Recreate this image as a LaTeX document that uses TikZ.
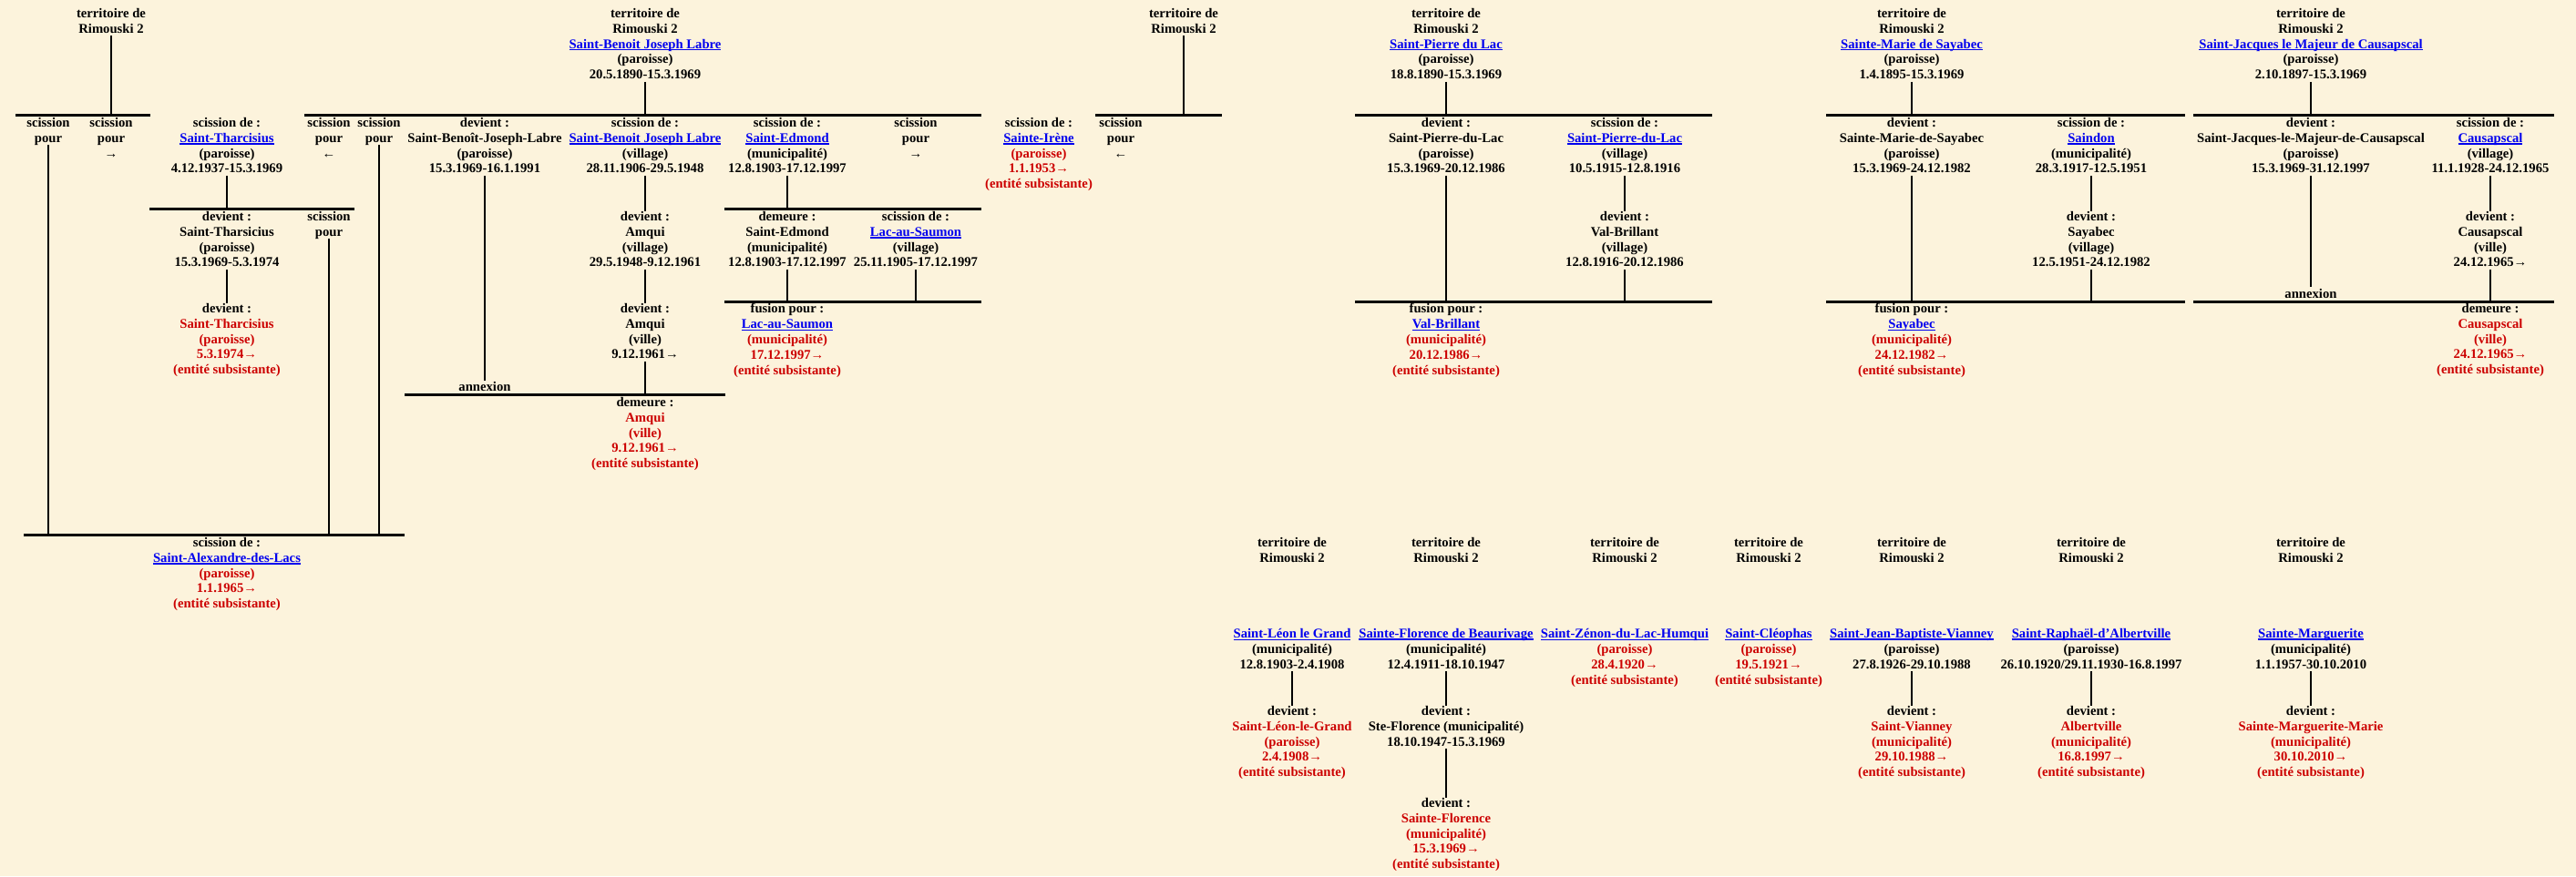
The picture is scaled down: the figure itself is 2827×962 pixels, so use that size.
\documentclass[tikz,border=0pt]{standalone}
\usepackage{fontspec}
\setmainfont{Liberation Serif}
\usepackage{xcolor}
\definecolor{bg}{RGB}{252,243,220}
\definecolor{lb}{RGB}{0,0,238}
\definecolor{rd}{RGB}{204,0,0}
\newcommand\kstrut{\rule[-3pt]{0pt}{14.9pt}}
\newcommand\lnk[1]{{\color{lb}\setbox0\hbox{#1}\rlap{\rule[-2.4pt]{\wd0}{1.2pt}}\box0}}
\newcommand\rtx[1]{\textcolor{rd}{#1}}
\begin{document}
\begin{tikzpicture}[x=1pt,y=-1pt,
  tb/.style={anchor=north,inner sep=0pt,outer sep=0pt,align=center,
    font=\fontsize{14.67pt}{16.9pt}\selectfont\bfseries,
    execute at begin node=\kstrut,execute at end node=\kstrut},
  bar/.style={line width=3pt},
  vl/.style={line width=1.3pt}]
\fill[bg] (0,0) rectangle (2827,962);
\useasboundingbox (0,0) rectangle (2827,962);

% ---------- bar end points ----------
\coordinate (p1a) at (17,126);   \coordinate (p1b) at (165,126);
\coordinate (p2a) at (164,229);  \coordinate (p2b) at (389,229);
\coordinate (p3a) at (334,126);  \coordinate (p3b) at (1077,126);
\coordinate (p4a) at (444,433);  \coordinate (p4b) at (796,433);
\coordinate (p5a) at (795,229);  \coordinate (p5b) at (1077,229);
\coordinate (p6a) at (795,331);  \coordinate (p6b) at (1077,331);
\coordinate (p7a) at (1202,126); \coordinate (p7b) at (1341,126);
\coordinate (p8a) at (26,587);   \coordinate (p8b) at (444,587);
\coordinate (q1a) at (1487,126); \coordinate (q1b) at (1879,126);
\coordinate (q2a) at (1487,331); \coordinate (q2b) at (1879,331);
\coordinate (r1a) at (2004,126); \coordinate (r1b) at (2398,126);
\coordinate (r2a) at (2004,331); \coordinate (r2b) at (2398,331);
\coordinate (s1a) at (2407,126); \coordinate (s1b) at (2803,126);
\coordinate (s2a) at (2407,331); \coordinate (s2b) at (2803,331);
\foreach \u/\v in {p1a/p1b,p2a/p2b,p3a/p3b,p4a/p4b,p5a/p5b,p6a/p6b,p7a/p7b,p8a/p8b,
  q1a/q1b,q2a/q2b,r1a/r1b,r2a/r2b,s1a/s1b,s2a/s2b}
  \draw[bar] (\u) -- (\v);

% ---------- Saint-Tharcisius / Saint-Alexandre ----------
\node[tb] (a1) at (122,9.1) {territoire de\\Rimouski 2};
\node[tb] (a2) at (53,129.1) {scission\\pour};
\node[tb] (a3) at (122,129.1) {scission\\pour\\→};
\node[tb] (a4) at (249,129.1) {scission de :\\\lnk{Saint-Tharcisius}\\(paroisse)\\4.12.1937-15.3.1969};
\node[tb] (a5) at (249,232.1) {devient :\\Saint-Tharsicius\\(paroisse)\\15.3.1969-5.3.1974};
\node[tb] (a6) at (249,333.1) {devient :\\\rtx{Saint-Tharcisius}\\\rtx{(paroisse)}\\\rtx{5.3.1974→}\\\rtx{(entité subsistante)}};
\node[tb] (a7) at (361,232.1) {scission\\pour};
\node[tb] (a8) at (361,129.1) {scission\\pour\\←};
\node[tb] (a9) at (416,129.1) {scission\\pour};
\node[tb] (a10) at (532,129.1) {devient :\\Saint-Benoît-Joseph-Labre\\(paroisse)\\15.3.1969-16.1.1991};
\node[tb] (a11) at (532,417.6) {annexion};
\node[tb] (a12) at (249,590.1) {scission de :\\\lnk{Saint-Alexandre-des-Lacs}\\\rtx{(paroisse)}\\\rtx{1.1.1965→}\\\rtx{(entité subsistante)}};

% ---------- Amqui ----------
\node[tb] (b1) at (708,9.1) {territoire de\\Rimouski 2\\\lnk{Saint-Benoit Joseph Labre}\\(paroisse)\\20.5.1890-15.3.1969};
\node[tb] (b2) at (708,129.1) {scission de :\\\lnk{Saint-Benoit Joseph Labre}\\(village)\\28.11.1906-29.5.1948};
\node[tb] (b3) at (708,232.1) {devient :\\Amqui\\(village)\\29.5.1948-9.12.1961};
\node[tb] (b4) at (708,333.1) {devient :\\Amqui\\(ville)\\9.12.1961→};
\node[tb] (b5) at (708,436.1) {demeure :\\\rtx{Amqui}\\\rtx{(ville)}\\\rtx{9.12.1961→}\\\rtx{(entité subsistante)}};

% ---------- Saint-Edmond / Lac-au-Saumon / Sainte-Irène ----------
\node[tb] (c1) at (864,129.1) {scission de :\\\lnk{Saint-Edmond}\\(municipalité)\\12.8.1903-17.12.1997};
\node[tb] (c2) at (1005,129.1) {scission\\pour\\→};
\node[tb] (c3) at (864,232.1) {demeure :\\Saint-Edmond\\(municipalité)\\12.8.1903-17.12.1997};
\node[tb] (c4) at (1005,232.1) {scission de :\\\lnk{Lac-au-Saumon}\\(village)\\25.11.1905-17.12.1997};
\node[tb] (c5) at (864,333.1) {fusion pour :\\\lnk{Lac-au-Saumon}\\\rtx{(municipalité)}\\\rtx{17.12.1997→}\\\rtx{(entité subsistante)}};
\node[tb] (c6) at (1140,129.1) {scission de :\\\lnk{Sainte-Irène}\\\rtx{(paroisse)}\\\rtx{1.1.1953→}\\\rtx{(entité subsistante)}};
\node[tb] (c7) at (1299,9.1) {territoire de\\Rimouski 2};
\node[tb] (c8) at (1230,129.1) {scission\\pour\\←};

% ---------- Saint-Pierre-du-Lac / Val-Brillant ----------
\node[tb] (d1) at (1587,9.1) {territoire de\\Rimouski 2\\\lnk{Saint-Pierre du Lac}\\(paroisse)\\18.8.1890-15.3.1969};
\node[tb] (d2) at (1587,129.1) {devient :\\Saint-Pierre-du-Lac\\(paroisse)\\15.3.1969-20.12.1986};
\node[tb] (d3) at (1783,129.1) {scission de :\\\lnk{Saint-Pierre-du-Lac}\\(village)\\10.5.1915-12.8.1916};
\node[tb] (d4) at (1783,232.1) {devient :\\Val-Brillant\\(village)\\12.8.1916-20.12.1986};
\node[tb] (d5) at (1587,333.1) {fusion pour :\\\lnk{Val-Brillant}\\\rtx{(municipalité)}\\\rtx{20.12.1986→}\\\rtx{(entité subsistante)}};

% ---------- Sayabec ----------
\node[tb] (e1) at (2098,9.1) {territoire de\\Rimouski 2\\\lnk{Sainte-Marie de Sayabec}\\(paroisse)\\1.4.1895-15.3.1969};
\node[tb] (e2) at (2098,129.1) {devient :\\Sainte-Marie-de-Sayabec\\(paroisse)\\15.3.1969-24.12.1982};
\node[tb] (e3) at (2295,129.1) {scission de :\\\lnk{Saindon}\\(municipalité)\\28.3.1917-12.5.1951};
\node[tb] (e4) at (2295,232.1) {devient :\\Sayabec\\(village)\\12.5.1951-24.12.1982};
\node[tb] (e5) at (2098,333.1) {fusion pour :\\\lnk{Sayabec}\\\rtx{(municipalité)}\\\rtx{24.12.1982→}\\\rtx{(entité subsistante)}};

% ---------- Causapscal ----------
\node[tb] (f1) at (2536,9.1) {territoire de\\Rimouski 2\\\lnk{Saint-Jacques le Majeur de Causapscal}\\(paroisse)\\2.10.1897-15.3.1969};
\node[tb] (f2) at (2536,129.1) {devient :\\Saint-Jacques-le-Majeur-de-Causapscal\\(paroisse)\\15.3.1969-31.12.1997};
\node[tb] (f3) at (2733,129.1) {scission de :\\\lnk{Causapscal}\\(village)\\11.1.1928-24.12.1965};
\node[tb] (f4) at (2733,232.1) {devient :\\Causapscal\\(ville)\\24.12.1965→};
\node[tb] (f5) at (2536,315.1) {annexion};
\node[tb] (f6) at (2733,333.1) {demeure :\\\rtx{Causapscal}\\\rtx{(ville)}\\\rtx{24.12.1965→}\\\rtx{(entité subsistante)}};

% ---------- bottom families ----------
\node[tb] (g1) at (1418,590.1) {territoire de\\Rimouski 2};
\node[tb] (g2) at (1418,690.1) {\lnk{Saint-Léon le Grand}\\(municipalité)\\12.8.1903-2.4.1908};
\node[tb] (g3) at (1418,775.1) {devient :\\\rtx{Saint-Léon-le-Grand}\\\rtx{(paroisse)}\\\rtx{2.4.1908→}\\\rtx{(entité subsistante)}};

\node[tb] (h1) at (1587,590.1) {territoire de\\Rimouski 2};
\node[tb] (h2) at (1587,690.1) {\lnk{Sainte-Florence de Beaurivage}\\(municipalité)\\12.4.1911-18.10.1947};
\node[tb] (h3) at (1587,775.1) {devient :\\Ste-Florence (municipalité)\\18.10.1947-15.3.1969};
\node[tb] (h4) at (1587,876.1) {devient :\\\rtx{Sainte-Florence}\\\rtx{(municipalité)}\\\rtx{15.3.1969→}\\\rtx{(entité subsistante)}};

\node[tb] (i1) at (1783,590.1) {territoire de\\Rimouski 2};
\node[tb] (i2) at (1783,690.1) {\lnk{Saint-Zénon-du-Lac-Humqui}\\\rtx{(paroisse)}\\\rtx{28.4.1920→}\\\rtx{(entité subsistante)}};

\node[tb] (j1) at (1941,590.1) {territoire de\\Rimouski 2};
\node[tb] (j2) at (1941,690.1) {\lnk{Saint-Cléophas}\\\rtx{(paroisse)}\\\rtx{19.5.1921→}\\\rtx{(entité subsistante)}};

\node[tb] (k1) at (2098,590.1) {territoire de\\Rimouski 2};
\node[tb] (k2) at (2098,690.1) {\lnk{Saint-Jean-Baptiste-Vianney}\\(paroisse)\\27.8.1926-29.10.1988};
\node[tb] (k3) at (2098,775.1) {devient :\\\rtx{Saint-Vianney}\\\rtx{(municipalité)}\\\rtx{29.10.1988→}\\\rtx{(entité subsistante)}};

\node[tb] (l1) at (2295,590.1) {territoire de\\Rimouski 2};
\node[tb] (l2) at (2295,690.1) {\lnk{Saint-Raphaël-d’Albertville}\\(paroisse)\\26.10.1920/29.11.1930-16.8.1997};
\node[tb] (l3) at (2295,775.1) {devient :\\\rtx{Albertville}\\\rtx{(municipalité)}\\\rtx{16.8.1997→}\\\rtx{(entité subsistante)}};

\node[tb] (m1) at (2536,590.1) {territoire de\\Rimouski 2};
\node[tb] (m2) at (2536,690.1) {\lnk{Sainte-Marguerite}\\(municipalité)\\1.1.1957-30.10.2010};
\node[tb] (m3) at (2536,775.1) {devient :\\\rtx{Sainte-Marguerite-Marie}\\\rtx{(municipalité)}\\\rtx{30.10.2010→}\\\rtx{(entité subsistante)}};

% ---------- connectors ----------
\draw[vl] (a1.south) -- (a1.south |- p1a);
\draw[vl] (a2.south) -- (a2.south |- p8a);
\draw[vl] (a4.south) -- (a4.south |- p2a);
\draw[vl] (a5.south) -- (a6.north);
\draw[vl] (a7.south) -- (a7.south |- p8a);
\draw[vl] (a9.south) -- (a9.south |- p8a);
\draw[vl] (a10.south) -- (a11.north);
\draw[vl] (b1.south) -- (b1.south |- p3a);
\draw[vl] (b2.south) -- (b3.north);
\draw[vl] (b3.south) -- (b4.north);
\draw[vl] (b4.south) -- (b4.south |- p4a);
\draw[vl] (c1.south) -- (c1.south |- p5a);
\draw[vl] (c3.south) -- (c3.south |- p6a);
\draw[vl] (c4.south) -- (c4.south |- p6a);
\draw[vl] (c7.south) -- (c7.south |- p7a);
\draw[vl] (d1.south) -- (d1.south |- q1a);
\draw[vl] (d2.south) -- (d2.south |- q2a);
\draw[vl] (d3.south) -- (d4.north);
\draw[vl] (d4.south) -- (d4.south |- q2a);
\draw[vl] (e1.south) -- (e1.south |- r1a);
\draw[vl] (e2.south) -- (e2.south |- r2a);
\draw[vl] (e3.south) -- (e4.north);
\draw[vl] (e4.south) -- (e4.south |- r2a);
\draw[vl] (f1.south) -- (f1.south |- s1a);
\draw[vl] (f2.south) -- (f5.north);
\draw[vl] (f3.south) -- (f4.north);
\draw[vl] (f4.south) -- (f4.south |- s2a);
\draw[vl] (g2.south) -- (g3.north);
\draw[vl] (h2.south) -- (h3.north);
\draw[vl] (h3.south) -- (h4.north);
\draw[vl] (k2.south) -- (k3.north);
\draw[vl] (l2.south) -- (l3.north);
\draw[vl] (m2.south) -- (m3.north);
\end{tikzpicture}
\end{document}
